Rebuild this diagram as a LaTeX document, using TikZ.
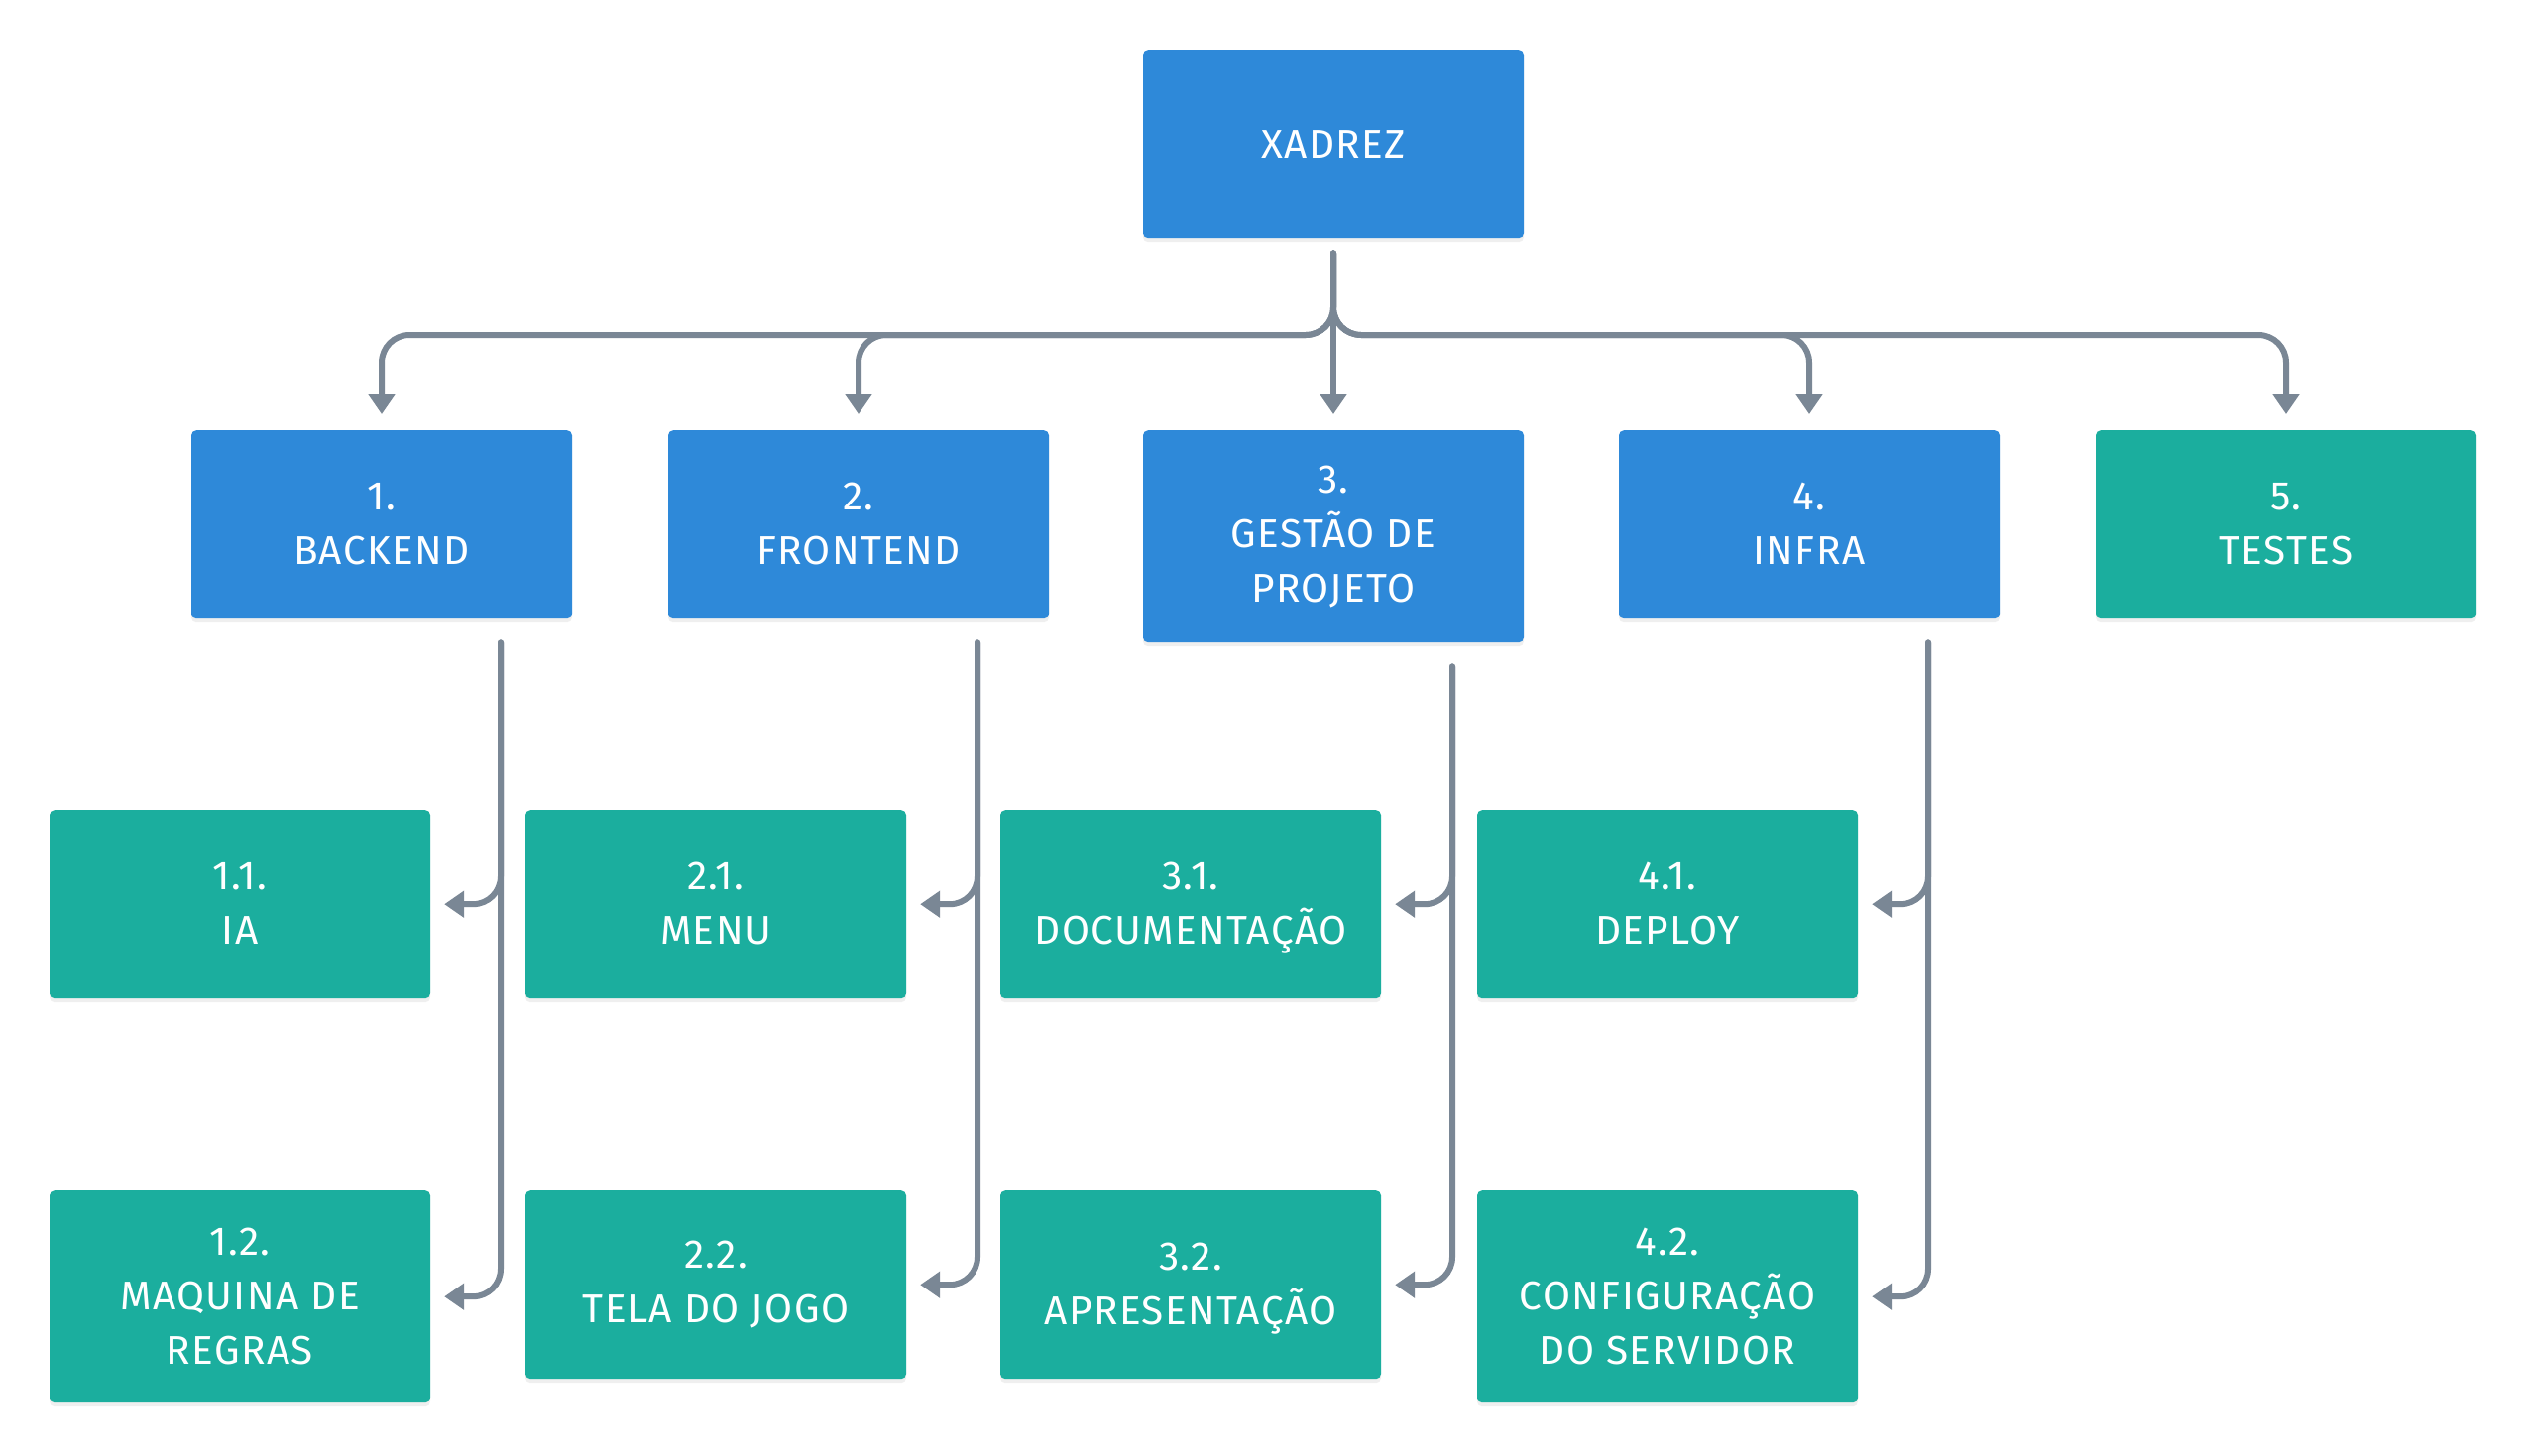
\documentclass[tikz,border=0pt]{standalone}
\usepackage{fontspec}
\setmainfont[LetterSpace=3.5]{Fira Sans}
\usetikzlibrary{arrows.meta,shadows}
\definecolor{boxblue}{HTML}{2E89D9}
\definecolor{boxteal}{HTML}{1BAE9E}
\definecolor{conngray}{HTML}{7A8795}
\newcommand{\topst}{\rule{0pt}{56pt}}
\newcommand{\botst}{\rule[-1pt]{0pt}{1pt}}
\tikzset{
 wbs/.style={rectangle, rounded corners=5pt, minimum width=384pt, minimum height=190pt, anchor=north, text=white, align=center, font=\fontsize{40.5}{55}\selectfont, inner sep=0pt, drop shadow={shadow xshift=0pt, shadow yshift=-4pt, opacity=0.12}},
 multi/.style={execute at begin node=\topst, execute at end node=\botst},
 rootbox/.style={wbs, fill=boxblue, execute at begin node=\rule{0pt}{40pt}, execute at end node=\rule[-12pt]{0pt}{12pt}},
 bluebox/.style={wbs, multi, fill=boxblue},
 tealbox/.style={wbs, multi, fill=boxteal},
 tall/.style={minimum height=214pt},
 conn/.style={draw=conngray, line width=6pt, line cap=round, rounded corners=28pt, -{Triangle[width=26pt,length=20pt]}}
}
\begin{document}
\begin{tikzpicture}[x=1pt,y=-1pt]
\useasboundingbox[fill=white] (0,0) rectangle (2548,1468);
\node[rootbox] (root) at (1345,50) {XADREZ};
\node[bluebox] (b1) at (385,434) {1.\\BACKEND};
\node[bluebox] (b2) at (866,434) {2.\\FRONTEND};
\node[bluebox,tall] (b3) at (1345,434) {3.\\GESTÃO DE\\PROJETO};
\node[bluebox] (b4) at (1825,434) {4.\\INFRA};
\node[tealbox] (b5) at (2306,434) {5.\\TESTES};
\node[tealbox] (c11) at (242,817) {1.1.\\IA};
\node[tealbox] (c21) at (722,817) {2.1.\\MENU};
\node[tealbox] (c31) at (1201,817) {3.1.\\\smash{DOCUMENTAÇÃO}};
\node[tealbox] (c41) at (1682,817) {4.1.\\DEPLOY};
\node[tealbox,tall] (c12) at (242,1201) {1.2.\\MAQUINA DE\\REGRAS};
\node[tealbox] (c22) at (722,1201) {2.2.\\TELA DO JOGO};
\node[tealbox] (c32) at (1201,1201) {3.2.\\\smash{APRESENTAÇÃO}};
\node[tealbox,tall] (c42) at (1682,1201) {4.2.\\CONFIGURAÇÃO\\DO SERVIDOR};
\foreach \b in {b1,b2,b4,b5}
  \draw[conn] ([yshift=-15pt]root.south) |- ([yshift=96pt]\b.north) -- ([yshift=16pt]\b.north);
\draw[conn] ([yshift=-15pt]root.south) -- ([yshift=16pt]b3.north);
\foreach \p/\c in {b1/c11,b1/c12,b2/c21,b2/c22,b3/c31,b3/c32,b4/c41,b4/c42}
  \draw[conn] ([xshift=120pt,yshift=-24pt]\p.south) |- ([xshift=14pt]\c.east);
\end{tikzpicture}
\end{document}
